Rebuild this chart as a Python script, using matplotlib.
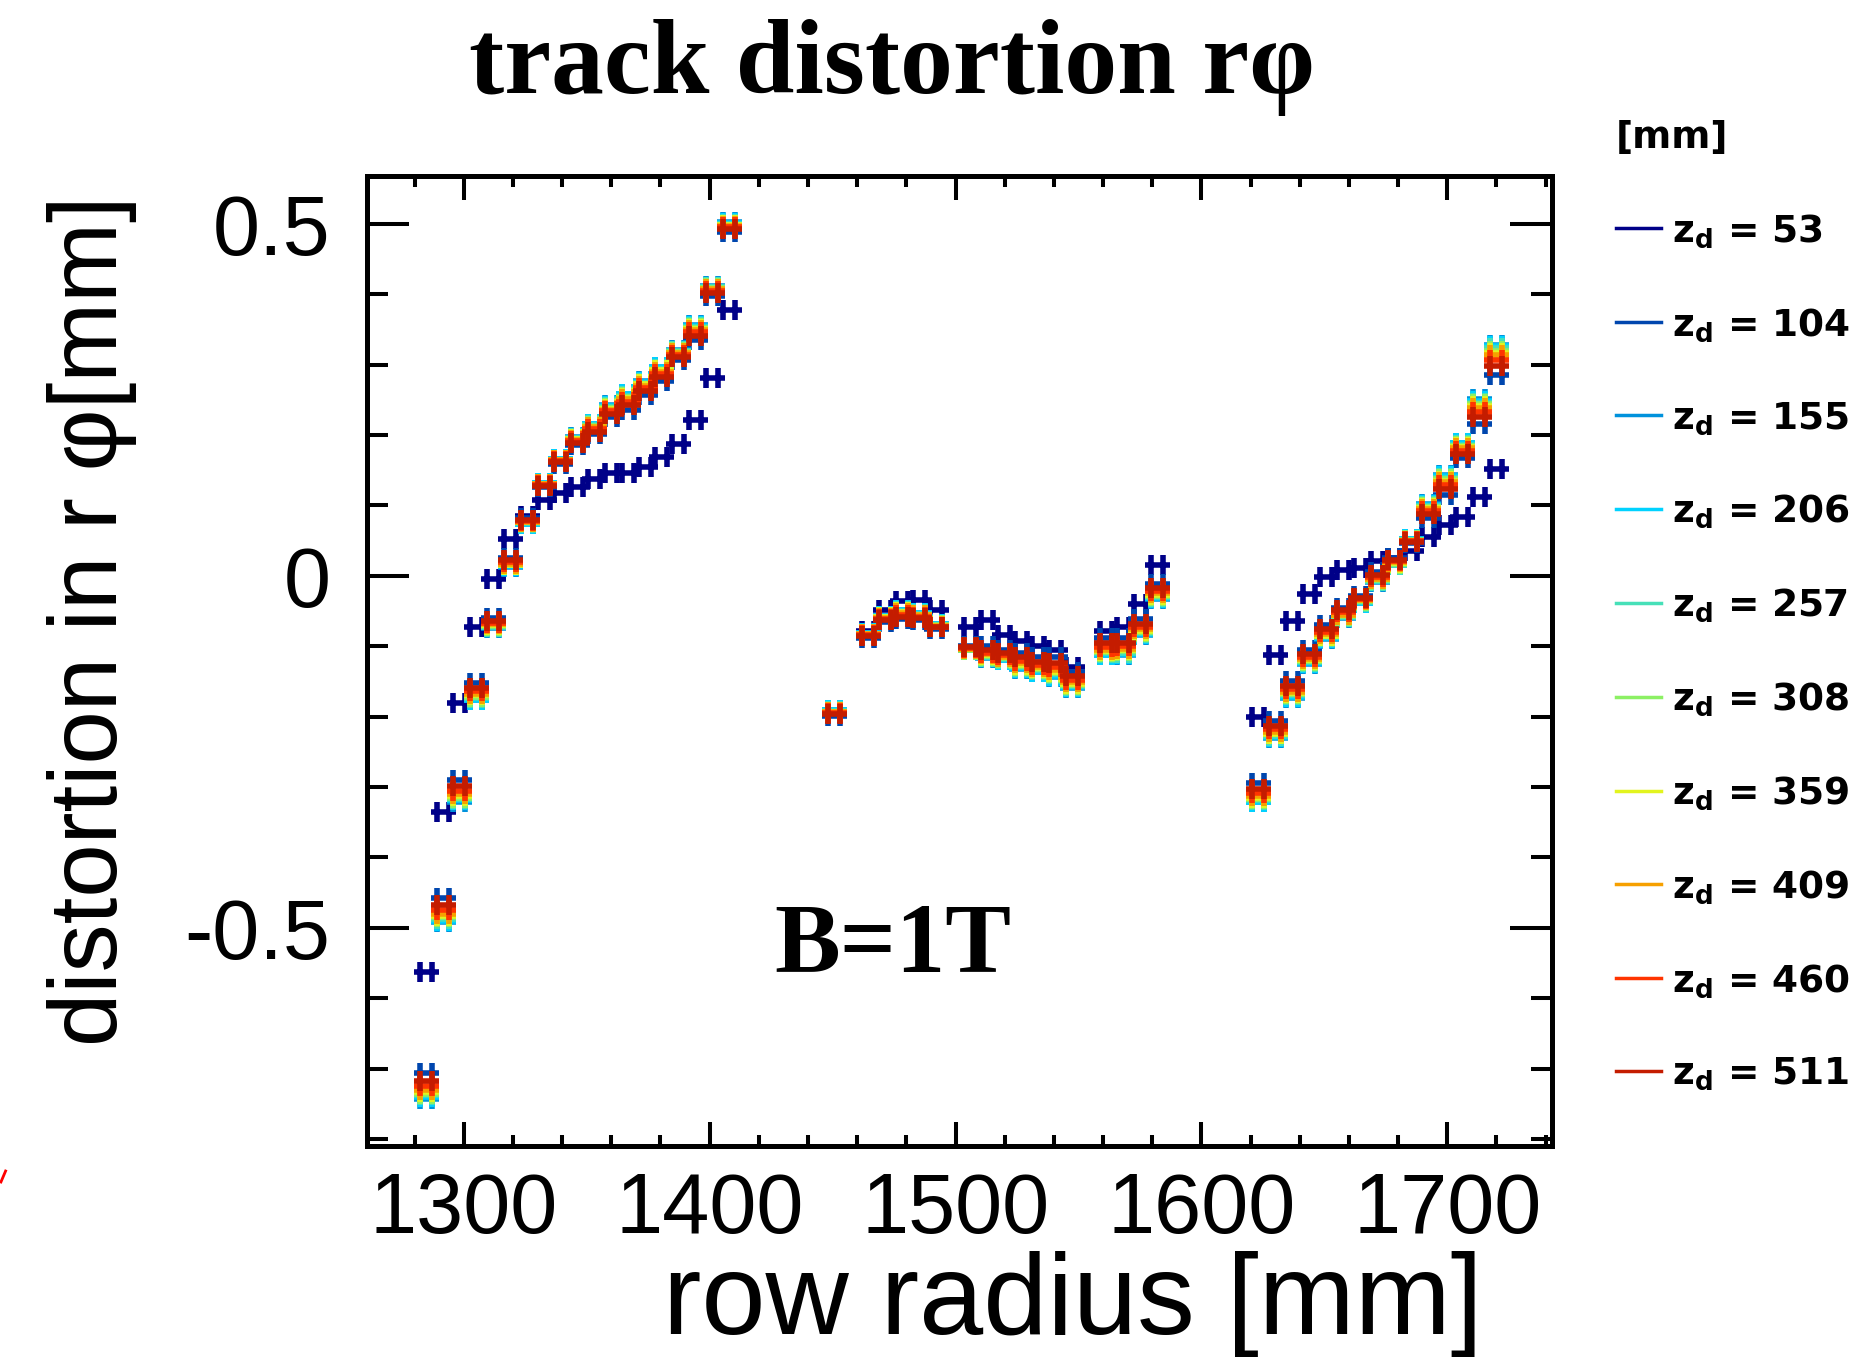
import matplotlib
matplotlib.use("Agg")
import matplotlib.pyplot as plt
from matplotlib.path import Path
from matplotlib.lines import Line2D

plt.rcParams['axes.unicode_minus'] = False
plt.rcParams['mathtext.fontset'] = 'dejavusans'

# ---------------- data ----------------
row_radius = [1284.5, 1291.35, 1298.2, 1305.05, 1311.9, 1318.75, 1325.6, 1332.45, 1339.3, 1346.15,
              1353.0, 1359.85, 1366.7, 1373.55, 1380.4, 1387.25, 1394.1, 1400.95, 1407.8,
              1450.7, 1464.5, 1471.4, 1478.3, 1485.2, 1492.1, 1505.9, 1512.8, 1519.7, 1526.6,
              1533.5, 1540.4, 1547.3, 1561.1, 1568.0, 1574.9, 1581.8,
              1623.2, 1630.1, 1637.0, 1643.9, 1650.8, 1657.7, 1664.5, 1671.4, 1678.3, 1685.2,
              1692.1, 1699.0, 1705.9, 1712.8, 1719.7]

z_values = [53, 104, 155, 206, 257, 308, 359, 409, 460, 511]

dist_z053 = [-0.563, -0.335, -0.181, -0.072, -0.004, 0.052, 0.085, 0.108, 0.118, 0.126, 0.138, 0.146, 0.146, 0.154, 0.169, 0.187, 0.222, 0.281, 0.377,
             -0.195, -0.078, -0.049, -0.036, -0.035, -0.049, -0.072, -0.063, -0.084, -0.093, -0.100, -0.105, -0.129, -0.079, -0.072, -0.040, 0.015,
             -0.201, -0.112, -0.064, -0.026, -0.001, 0.008, 0.011, 0.021, 0.025, 0.035, 0.055, 0.072, 0.084, 0.112, 0.152]
dist_z104 = [-0.707, -0.457, -0.290, -0.152, -0.060, 0.026, 0.082, 0.126, 0.159, 0.186, 0.201, 0.225, 0.235, 0.257, 0.277, 0.307, 0.335, 0.398, 0.488,
             -0.199, -0.088, -0.065, -0.062, -0.063, -0.075, -0.099, -0.100, -0.106, -0.110, -0.116, -0.116, -0.137, -0.089, -0.088, -0.062, -0.011,
             -0.295, -0.206, -0.149, -0.105, -0.070, -0.045, -0.028, 0.005, 0.026, 0.046, 0.082, 0.115, 0.167, 0.215, 0.286]
dist_z155 = [-0.743, -0.492, -0.321, -0.177, -0.074, 0.013, 0.074, 0.132, 0.166, 0.197, 0.216, 0.242, 0.259, 0.277, 0.297, 0.321, 0.356, 0.412, 0.502,
             -0.191, -0.081, -0.057, -0.048, -0.053, -0.069, -0.106, -0.117, -0.120, -0.132, -0.137, -0.144, -0.159, -0.113, -0.112, -0.084, -0.033,
             -0.322, -0.230, -0.173, -0.125, -0.090, -0.060, -0.038, -0.009, 0.015, 0.052, 0.102, 0.143, 0.189, 0.251, 0.328]
dist_z206 = [-0.741, -0.490, -0.319, -0.176, -0.073, 0.014, 0.074, 0.132, 0.166, 0.196, 0.215, 0.241, 0.258, 0.276, 0.296, 0.320, 0.355, 0.411, 0.501,
             -0.191, -0.081, -0.057, -0.049, -0.053, -0.069, -0.106, -0.116, -0.119, -0.131, -0.136, -0.143, -0.158, -0.112, -0.111, -0.083, -0.032,
             -0.321, -0.229, -0.172, -0.124, -0.089, -0.059, -0.038, -0.008, 0.016, 0.052, 0.101, 0.142, 0.188, 0.249, 0.326]
dist_z257 = [-0.738, -0.488, -0.317, -0.174, -0.072, 0.015, 0.075, 0.131, 0.165, 0.196, 0.214, 0.240, 0.256, 0.274, 0.294, 0.319, 0.353, 0.410, 0.500,
             -0.192, -0.082, -0.058, -0.050, -0.054, -0.070, -0.105, -0.115, -0.118, -0.129, -0.134, -0.140, -0.156, -0.110, -0.109, -0.081, -0.030,
             -0.319, -0.227, -0.170, -0.122, -0.087, -0.058, -0.037, -0.007, 0.016, 0.051, 0.099, 0.139, 0.186, 0.246, 0.323]
dist_z308 = [-0.736, -0.485, -0.315, -0.172, -0.071, 0.016, 0.076, 0.131, 0.165, 0.195, 0.213, 0.239, 0.254, 0.273, 0.293, 0.318, 0.352, 0.409, 0.499,
             -0.193, -0.082, -0.059, -0.051, -0.055, -0.070, -0.105, -0.114, -0.117, -0.128, -0.133, -0.138, -0.155, -0.108, -0.107, -0.080, -0.029,
             -0.317, -0.225, -0.168, -0.121, -0.086, -0.057, -0.036, -0.006, 0.017, 0.051, 0.098, 0.137, 0.185, 0.244, 0.320]
dist_z359 = [-0.733, -0.483, -0.313, -0.170, -0.070, 0.016, 0.076, 0.130, 0.164, 0.194, 0.212, 0.237, 0.253, 0.272, 0.292, 0.317, 0.350, 0.408, 0.498,
             -0.193, -0.083, -0.059, -0.052, -0.056, -0.071, -0.104, -0.112, -0.116, -0.126, -0.131, -0.136, -0.153, -0.107, -0.106, -0.078, -0.027,
             -0.315, -0.224, -0.167, -0.120, -0.085, -0.056, -0.035, -0.005, 0.018, 0.050, 0.097, 0.135, 0.183, 0.241, 0.317]
dist_z409 = [-0.730, -0.480, -0.310, -0.168, -0.069, 0.017, 0.077, 0.130, 0.164, 0.193, 0.211, 0.236, 0.251, 0.270, 0.290, 0.316, 0.349, 0.407, 0.497,
             -0.194, -0.083, -0.060, -0.053, -0.056, -0.071, -0.104, -0.111, -0.115, -0.124, -0.130, -0.134, -0.151, -0.105, -0.104, -0.076, -0.025,
             -0.313, -0.222, -0.165, -0.118, -0.083, -0.055, -0.035, -0.004, 0.019, 0.050, 0.095, 0.133, 0.181, 0.238, 0.313]
dist_z460 = [-0.725, -0.475, -0.306, -0.164, -0.067, 0.019, 0.078, 0.129, 0.163, 0.191, 0.208, 0.234, 0.247, 0.267, 0.287, 0.314, 0.346, 0.405, 0.495,
             -0.195, -0.084, -0.061, -0.055, -0.058, -0.072, -0.103, -0.109, -0.113, -0.121, -0.127, -0.130, -0.148, -0.101, -0.100, -0.073, -0.022,
             -0.309, -0.218, -0.161, -0.115, -0.080, -0.052, -0.033, -0.002, 0.021, 0.049, 0.092, 0.129, 0.178, 0.233, 0.307]
dist_z511 = [-0.717, -0.467, -0.299, -0.159, -0.064, 0.022, 0.080, 0.128, 0.161, 0.189, 0.205, 0.230, 0.242, 0.263, 0.283, 0.311, 0.341, 0.402, 0.492,
             -0.197, -0.086, -0.063, -0.058, -0.060, -0.073, -0.101, -0.105, -0.110, -0.116, -0.122, -0.124, -0.143, -0.096, -0.095, -0.068, -0.017,
             -0.303, -0.213, -0.156, -0.111, -0.076, -0.049, -0.031, 0.001, 0.023, 0.048, 0.088, 0.123, 0.173, 0.225, 0.298]

series = [dist_z053, dist_z104, dist_z155, dist_z206, dist_z257,
          dist_z308, dist_z359, dist_z409, dist_z460, dist_z511]
colors = ['#000088', '#0046AE', '#0092DC', '#00D2FF', '#46E0B8',
          '#8CF064', '#E2F41E', '#F6A000', '#FF3400', '#C41C00']

x_ticks = [1300, 1400, 1500, 1600, 1700]
y_ticks = [-0.5, 0, 0.5]
y_ticklabels = ['-0.5', '0', '0.5']

# ---------------- figure ----------------
W, H = 1870, 1357
fig = plt.figure(figsize=(W / 100, H / 100), dpi=100)
ax = fig.add_axes([366.7 / W, 1 - 1146 / H, (1551.7 - 366.7) / W, (1146 - 176) / H])

# "++" marker
mk = Path([(-1, 0), (1, 0), (-0.45, -0.8), (-0.45, 0.8), (0.45, -0.8), (0.45, 0.8)],
          [Path.MOVETO, Path.LINETO, Path.MOVETO, Path.LINETO, Path.MOVETO, Path.LINETO])

for vals, c in zip(series, colors):
    ax.plot(row_radius, vals, ls='none', marker=mk, ms=18, mew=4.0,
            mec=c, mfc='none')

ax.set_xlim(1260.5, 1742.5)
ax.set_ylim(-0.81, 0.568)

ax.set_xticks(x_ticks)
ax.set_xticks(range(1280, 1741, 20), minor=True)
ax.set_yticks(y_ticks)
ax.set_yticklabels(y_ticklabels)
ax.set_yticks([v / 10 for v in range(-8, 6)], minor=True)

for sp in ax.spines.values():
    sp.set_linewidth(3.6)

ax.tick_params(axis='both', which='both', direction='in', top=True, right=True, width=2.9)
ax.tick_params(axis='y', which='major', length=30, pad=26)
ax.tick_params(axis='y', which='minor', length=15)
ax.tick_params(axis='x', which='major', length=17, pad=18)
ax.tick_params(axis='x', which='minor', length=8)
for lab in ax.get_xticklabels() + ax.get_yticklabels():
    lab.set_fontfamily('Liberation Sans')
    lab.set_fontsize(61)

ax.set_xlabel('row radius [mm]', fontsize=83, family='Liberation Sans', va='center')
ax.xaxis.set_label_coords(0.596, -0.163)
ax.set_ylabel('distortion in r φ[mm]', fontsize=69, family='Liberation Sans', va='center')
ax.yaxis.set_label_coords(-0.232, 0.542)

ax.text(0.444, 0.204, 'B=1T', transform=ax.transAxes, ha='center', va='center',
        fontsize=71, fontweight='bold', family='Liberation Serif')

fig.text(0.477, 1 - 93 / H, 'track distortion rφ', ha='center', va='baseline',
         fontsize=76, fontweight='bold', family='Liberation Serif')

# legend
handles = [Line2D([], [], color=c, lw=2.5) for c in colors]
labels = [r'$\mathbf{z}_{\mathbf{d}}$ = %d' % z for z in z_values]
leg = fig.legend(handles, labels, loc='upper left', bbox_to_anchor=(1616 / W, 1 - 120 / H),
                 frameon=False, title='[mm]', alignment='left',
                 prop={'family': 'DejaVu Sans', 'weight': 'bold', 'size': 27},
                 title_fontproperties={'family': 'DejaVu Sans', 'weight': 'bold', 'size': 27},
                 handlelength=1.2, handletextpad=0.3, labelspacing=1.5, borderpad=0,
                 borderaxespad=0)

# small red stroke at the left edge
fig.add_artist(Line2D([0.0005, 0.003], [1 - 1182 / H, 1 - 1171 / H], color='red', lw=2,
                      transform=fig.transFigure))

fig.savefig('out.png', dpi=100)
